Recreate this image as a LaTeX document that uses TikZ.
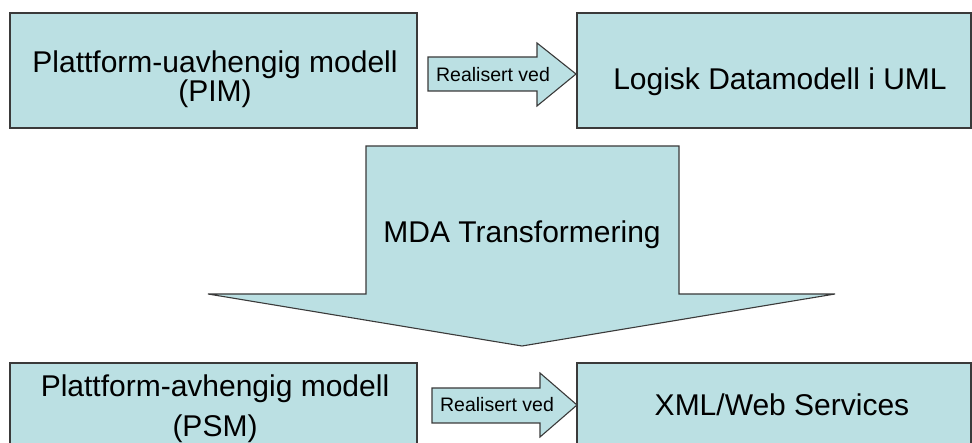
\documentclass[tikz,border=0pt]{standalone}
\usepackage{fontspec}
\setmainfont{Liberation Sans}
\definecolor{boxfill}{HTML}{BBE0E3}
\definecolor{boxline}{HTML}{3A3A3A}
\begin{document}
\begin{tikzpicture}[x=1pt,y=-1pt,
  every node/.style={inner sep=0pt, outer sep=0pt},
  blockbox/.style={draw=boxline, fill=boxfill, line width=1.2pt, rectangle,
    minimum width=394pt, minimum height=115pt, anchor=north west},
  blockarrow/.style={draw=boxline, fill=boxfill, line width=1.1pt, line join=miter},
  bigtext/.style={font=\fontsize{30}{29}\selectfont, align=center},
  smalltext/.style={font=\fontsize{19.5}{22}\selectfont}]
\useasboundingbox (0,0) rectangle (972,443);
\clip (0,0) rectangle (972,443);

% boxes
\node[blockbox, minimum width=407pt] (pim) at (10,13) {};
\node[blockbox] (ldm) at (577,13) {};
\node[blockbox, minimum width=407pt] (psm) at (10,363) {};
\node[blockbox] (xml) at (577,363) {};

% box texts
\node[bigtext, anchor=north] (pimtxt) at (215,51) {Plattform-uavhengig modell\\(PIM)};
\node[bigtext, anchor=base] (ldmtxt) at (780,90) {Logisk Datamodell i UML};
\node[bigtext, font=\fontsize{30}{40}\selectfont, anchor=north] (psmtxt) at (215,375) {Plattform-avhengig modell\\(PSM)};
\node[bigtext, anchor=base] (xmltxt) at (782,416) {XML/Web Services};

% top small arrow
\coordinate (a1tip) at (576,74);
\draw[blockarrow] (428,57) -- (537,57) -- (537,43) -- (a1tip) -- (537,106) -- (537,91) -- (428,91) -- cycle;
\node[smalltext, anchor=base] (a1txt) at (493,82) {Realisert ved};

% bottom small arrow
\coordinate (a2tip) at (577,405);
\draw[blockarrow] (432,388) -- (540,388) -- (540,373) -- (a2tip) -- (540,437) -- (540,423) -- (432,423) -- cycle;
\node[smalltext, anchor=base] (a2txt) at (497,412) {Realisert ved};

% MDA block arrow
\coordinate (mdatip) at (522,346);
\draw[blockarrow] (366,146) -- (679,146) -- (679,294) -- (835,294) -- (mdatip) -- (208,294) -- (366,294) -- cycle;
\node[bigtext, anchor=base] (mdatxt) at (522,243) {MDA Transformering};
\end{tikzpicture}
\end{document}
